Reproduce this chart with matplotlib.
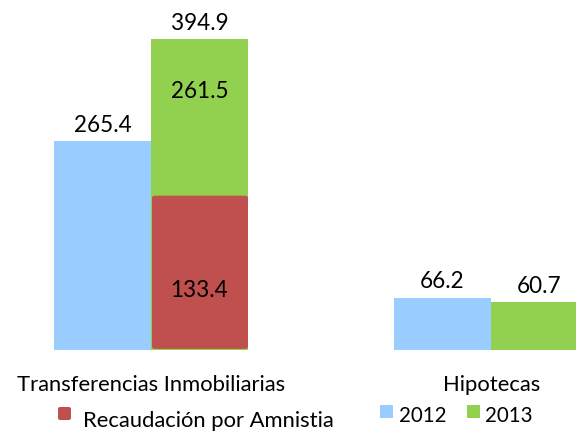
import matplotlib.pyplot as plt
from matplotlib.patches import FancyBboxPatch, Rectangle

# Data
categories = ["Transferencias Inmobiliarias", "Hipotecas"]
years = ["2012", "2013"]
values_2012 = [265.4, 66.2]
values_2013 = [394.9, 60.7]
amnistia = 133.4          # recaudación por amnistía (within 2013 Transferencias)
resto_2013 = 261.5        # 2013 Transferencias without amnistía

colors = {"2012": "#99CCFF", "2013": "#92D050", "amnistia": "#C0504D"}
font = "Lato"

W, H = 576, 432
fig = plt.figure(figsize=(W / 72, H / 72), dpi=72)
ax = fig.add_axes([0, 0, 1, 1])

# scale: baseline at pixel 350, 0.7875 px per unit, bar width 97 px
px_per_unit = 0.7875
bar_px = 97
ax.set_ylim(-(H - 350) / px_per_unit, 350 / px_per_unit)
ax.set_xlim(-151 / bar_px, (W - 151) / bar_px)
ax.axis("off")

centers = [0, 3.505]
bw = 1.0
for i, c in enumerate(centers):
    ax.bar(c - bw / 2, values_2012[i], width=bw, color=colors["2012"], zorder=2)
    ax.bar(c + bw / 2, values_2013[i], width=bw, color=colors["2013"], zorder=2)
    ax.text(c - bw / 2, values_2012[i] + 12, f"{values_2012[i]:.1f}",
            ha="center", va="baseline", fontsize=22.5, family=font)
    ax.text(c + bw / 2, values_2013[i] + 12, f"{values_2013[i]:.1f}",
            ha="center", va="baseline", fontsize=22.5, family=font)

# amnistia box overlaid on the lower half of the 2013 bar
box_h = values_2013[0] / 2
box = FancyBboxPatch((centers[0] + 0.01, 1.5), bw - 0.01, box_h - 3,
                     boxstyle="round,pad=0,rounding_size=0.03",
                     facecolor=colors["amnistia"], edgecolor="none",
                     zorder=3, mutation_aspect=80)
ax.add_patch(box)
ax.text(centers[0] + bw / 2, 67, f"{amnistia:.1f}", ha="center", va="baseline",
        fontsize=22.5, family=font, zorder=4)
ax.text(centers[0] + bw / 2, values_2013[0] - 75, f"{resto_2013:.1f}", ha="center",
        va="baseline", fontsize=22.5, family=font, zorder=4)


def ftext(x, y, s, **kw):
    fig.text(x / W, 1 - y / H, s, family=font, va="baseline", **kw)


# category labels
ftext(151, 391, categories[0], ha="center", fontsize=22)
ftext(492, 391, categories[1], ha="center", fontsize=22)

# legend
fig.patches.append(FancyBboxPatch((58 / W, 1 - 420 / H), 13 / W, 13 / H,
                                  boxstyle="round,pad=0,rounding_size=0.004",
                                  facecolor=colors["amnistia"], edgecolor="none",
                                  transform=fig.transFigure, figure=fig))
ftext(83, 427, "Recaudación por Amnistia", ha="left", fontsize=22)
fig.patches.append(Rectangle((380 / W, 1 - 418 / H), 13 / W, 13 / H,
                             facecolor=colors["2012"], edgecolor="none",
                             transform=fig.transFigure, figure=fig))
ftext(399, 422, years[0], ha="left", fontsize=20.5)
fig.patches.append(Rectangle((467 / W, 1 - 418 / H), 13 / W, 13 / H,
                             facecolor=colors["2013"], edgecolor="none",
                             transform=fig.transFigure, figure=fig))
ftext(485, 422, years[1], ha="left", fontsize=20.5)

fig.savefig("out.png", dpi=72)
